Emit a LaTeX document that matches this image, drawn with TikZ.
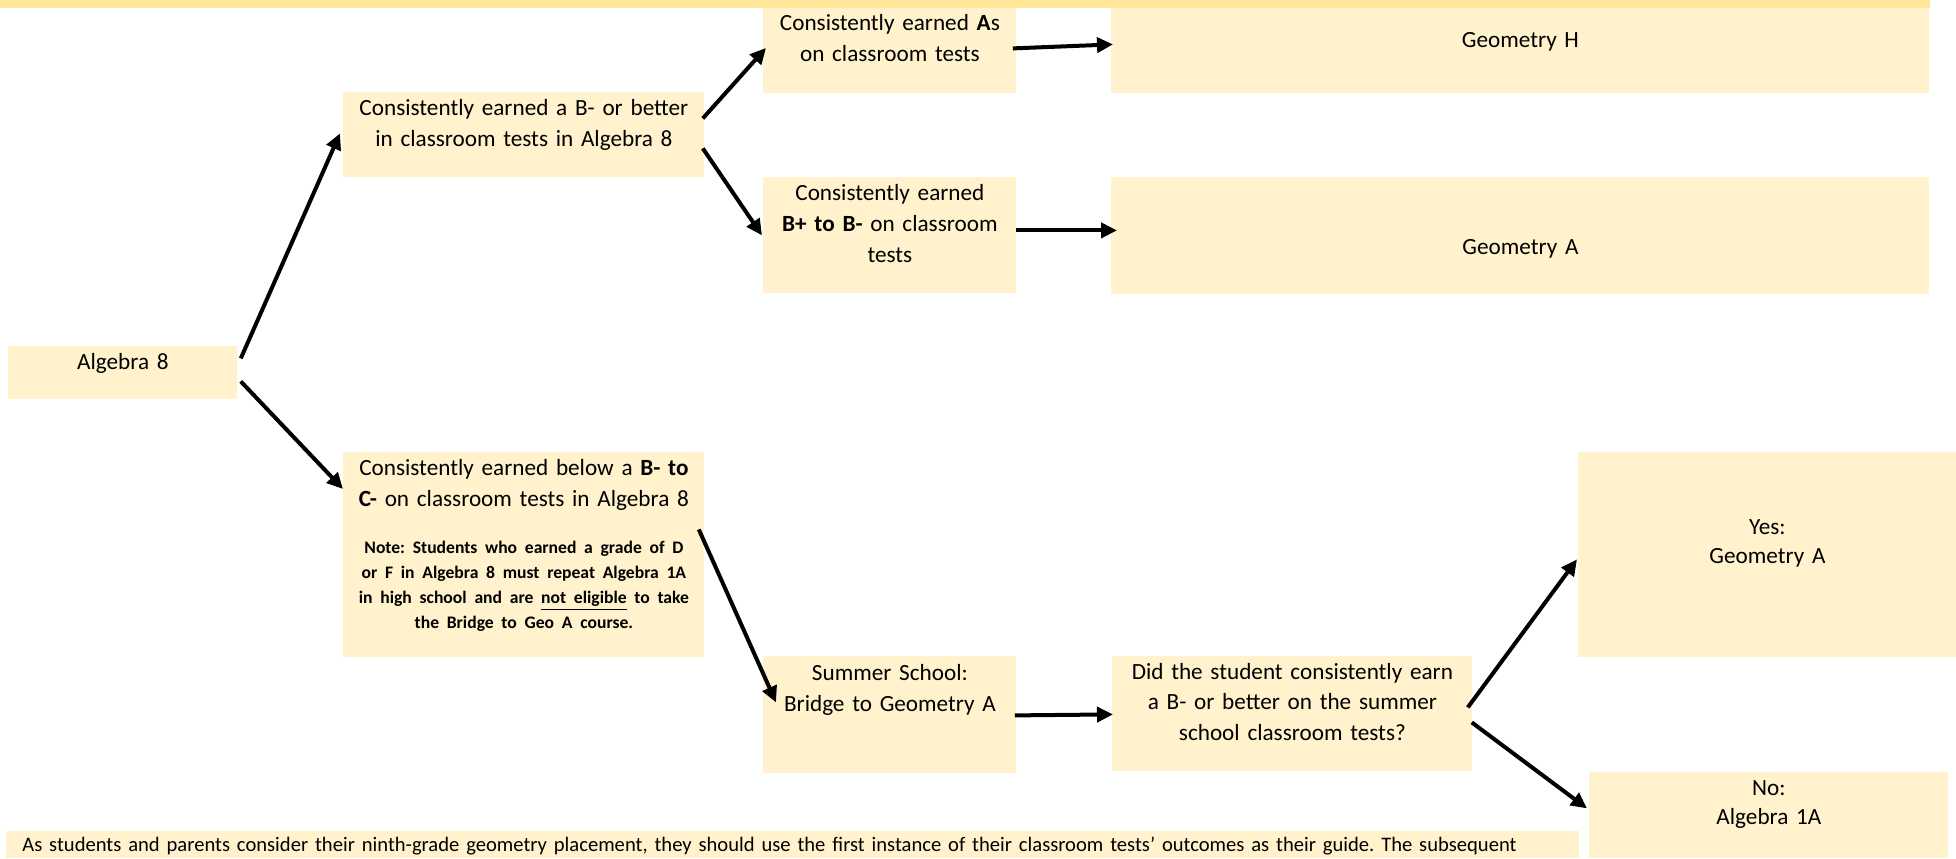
\documentclass[tikz,border=0pt]{standalone}
\usepackage{fontspec}
\setmainfont{Carlito}
\usetikzlibrary{arrows.meta,calc}
\definecolor{boxfill}{HTML}{FFF2CC}
\definecolor{stripfill}{HTML}{FFE699}
\frenchspacing

\begin{document}
\begin{tikzpicture}[x=0.5pt, y=-0.5pt,
    box/.style n args={3}{fill=boxfill, inner sep=0pt, anchor=north west, align=center,
      text width=#1, text height=#2, text depth=#3,
      font=\fontsize{11.6pt}{15.5pt}\selectfont},
    arr/.style={line width=2pt, -{Triangle[length=8pt,width=7.5pt]}}]
    \useasboundingbox (0,0) rectangle (1956,858);
    \fill[stripfill] (0,0) rectangle (1930,8);
    % first column
    \node[box={114.5pt}{11.5pt}{15pt}] (alg) at (8,346) {Algebra 8};
    % second column
    \node[box={180.5pt}{11.5pt}{31pt}] (better) at (343,92)
      {Consistently earned a B- or better\\ in classroom tests in Algebra 8};
    \node[box={180.5pt}{11.5pt}{91pt}] (below) at (343,452)
      {Consistently earned below a \textbf{B- to}\\ \textbf{C-} on classroom tests in Algebra 8\par
       \vspace{11.2pt}{\fontsize{8.8pt}{12.5pt}\selectfont\bfseries Note: Students who earned a grade of D\\
       or F in Algebra 8 must repeat Algebra 1A\\ in high school and are \underline{not eligible} to take\\
       the Bridge to Geo A course.\par}};
    % third column
    \node[box={126.5pt}{11pt}{31.5pt}] (earnA) at (763,8)
      {Consistently earned \textbf{A}s\\ on classroom tests};
    \node[box={126.5pt}{11.5pt}{46.5pt}] (earnB) at (763,177)
      {Consistently earned\\ \textbf{B+ to B-} on classroom\\ tests};
    \node[box={126.5pt}{12pt}{46.5pt}] (summer) at (763,656)
      {Summer School:\\ Bridge to Geometry A};
    % fourth column
    \node[box={409pt}{19.5pt}{23pt}] (geoH) at (1111,8) {Geometry H};
    \node[box={409pt}{38.5pt}{20pt}] (geoA) at (1111,177) {Geometry A};
    \node[box={180pt}{11.5pt}{46pt}, font=\fontsize{11.6pt}{15.25pt}\selectfont] (did) at (1112,656)
      {Did the student consistently earn\\ a B- or better on the summer\\ school classroom tests?};
    % last column
    \node[box={189pt}{41pt}{61.5pt}, font=\fontsize{11.6pt}{14.5pt}\selectfont] (yes) at (1578,452)
      {Yes:\\ Geometry A};
    \node[box={179.5pt}{11.5pt}{31.5pt}, font=\fontsize{11.6pt}{14.5pt}\selectfont] (no) at (1589,772)
      {No:\\ Algebra 1A};
    \node[box={770.5pt}{10pt}{3.5pt}, inner xsep=8pt, align=left,
      font=\fontsize{10.3pt}{13pt}\selectfont] (guide) at (6,831)
      {As students and parents consider their ninth-grade geometry placement, they should use the first instance of their classroom tests’ outcomes as their guide. The subsequent};
    % arrows
    \draw[arr] ($(alg.east)+(3,-14.5)$) -- ($(better.west)+(-3,-1.5)$);
    \draw[arr] ($(alg.east)+(3,8.5)$) -- ($(below.north west)+(0,37)$);
    \draw[arr] ($(better.east)+(-2,-16.5)$) -- ($(earnA.west)+(3,-3)$);
    \draw[arr] ($(better.east)+(-2,13.5)$) -- ($(earnB.west)+(-1,0)$);
    \draw[arr] ($(earnA.east)+(-4,-2.5)$) -- ($(geoH.west)+(2,-6.5)$);
    \draw[arr] ($(earnB.east)+(-1,-5)$) -- ($(geoA.west)+(6,-5.5)$);
    \draw[arr] ($(below.east)+(-6,-25.5)$) -- ($(summer.west)+(13,-12.5)$);
    \draw[arr] ($(summer.east)+(-2,0.5)$) -- ($(did.west)+(1,0.5)$);
    \draw[arr] ($(did.east)+(-5,-6.5)$) -- ($(yes.west)+(-1,4.5)$);
    \draw[arr] ($(did.east)+(-1,8.5)$) -- ($(no.west)+(-2,-7)$);
\end{tikzpicture}
\end{document}
